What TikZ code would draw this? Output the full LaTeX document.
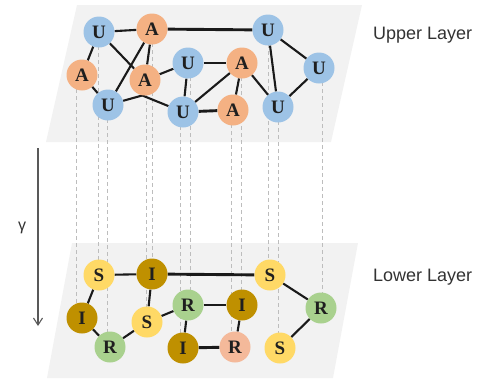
\documentclass[tikz,border=0pt]{standalone}
\usepackage{fontspec}
\setmainfont{Liberation Serif}
\newfontfamily\labelfont{Liberation Sans}
\usetikzlibrary{arrows.meta}

\definecolor{ublue}{HTML}{9DC3E6}
\definecolor{aorange}{HTML}{F4B183}
\definecolor{syellow}{HTML}{FFD966}
\definecolor{igold}{HTML}{BF9000}
\definecolor{rgreen}{HTML}{A9D18E}
\definecolor{rpeach}{HTML}{F4B99A}
\definecolor{planegray}{HTML}{F2F2F2}
\definecolor{projgray}{HTML}{BDBDBD}
\definecolor{edgeblack}{HTML}{1A1A1A}

\pgfdeclarelayer{planes}
\pgfdeclarelayer{links}
\pgfsetlayers{planes,links,main}

\begin{document}
\begin{tikzpicture}[x=1pt,y=-1pt,
  vertex/.style={circle, minimum size=31pt, inner sep=0pt,
    font=\fontsize{19}{19}\selectfont\bfseries, text=black!88},
  U/.style={vertex, fill=ublue},
  A/.style={vertex, fill=aorange},
  S/.style={vertex, fill=syellow},
  I/.style={vertex, fill=igold},
  R/.style={vertex, fill=rgreen},
  Rp/.style={vertex, fill=rpeach},
  edge/.style={draw=edgeblack, line width=2.1pt},
  heavy/.style={draw=edgeblack, line width=2.9pt},
  proj/.style={draw=projgray, line width=0.7pt, dash pattern=on 4pt off 3pt},
  layerlabel/.style={anchor=west, inner sep=0pt, text=black!80,
    font=\labelfont\fontsize{18}{18}\selectfont},
]
\useasboundingbox (0,0) rectangle (484,378);

% the two layer planes
\begin{pgfonlayer}{planes}
  \fill[planegray] (77,5) -- (362,5) -- (331,142) -- (46,142) -- cycle;
  \fill[planegray] (72,243) -- (358,243) -- (333,378) -- (47,378) -- cycle;
\end{pgfonlayer}

% upper layer vertices
\node[U] (U1) at (99,32)  {U};
\node[A] (A1) at (152,29) {A};
\node[U] (U2) at (268,30) {U};
\node[A] (A2) at (82,75)  {A};
\node[A] (A3) at (145,80) {A};
\node[U] (U3) at (188,63) {U};
\node[A] (A4) at (242,63) {A};
\node[U] (U4) at (319,68) {U};
\node[U] (U5) at (108,105) {U};
\node[U] (U6) at (183,112) {U};
\node[A] (A5) at (233,110) {A};
\node[U] (U7) at (278,107) {U};

% lower layer vertices
\node[S] (S1) at (99,275)  {S};
\node[I] (I1) at (152,274) {I};
\node[S] (S2) at (270,275) {S};
\node[I] (I2) at (82,318)  {I};
\node[S] (S3) at (147,322) {S};
\node[R] (R1) at (188,305) {R};
\node[I] (I3) at (242,305) {I};
\node[R] (R2) at (321,308) {R};
\node[R] (R3) at (110,347) {R};
\node[I] (I4) at (183,348) {I};
\node[Rp] (R4) at (235,347) {R};
\node[S] (S4) at (280,348) {S};

\begin{pgfonlayer}{links}
  % vertical projections between the layers
  \foreach \up/\lo/\dx in {A2/I2/-6, U1/S1/-1, U5/R3/-1, A3/S3/1, A1/I1/0,
      U6/I4/-3, U3/R1/2, A5/R4/-2, A4/I3/-1, U2/S2/0, U7/S4/0, U4/R2/3}
    \draw[proj] ([xshift=\dx]\up.center) -- ([xshift=\dx]\up.center |- \lo.center);

  % upper layer edges
  \draw[edge] (U1) -- (A1);
  \draw[heavy] (A1) -- (U2);
  \draw[edge] (U1) -- (A2);
  \draw[edge] (U1) -- (A3);
  \draw[edge] (A1) -- (U5);
  \draw[edge] (A1) -- (A3);
  \draw[edge] (A2) -- (U5);
  \draw[edge] (U5) -- (A3.-100) -- (U6);
  \draw[edge] (A3) -- (U3);
  \draw[edge] (U3) -- (A4);
  \draw[edge] (U3) -- (U6);
  \draw[edge] (U6) -- (A4);
  \draw[heavy] (U6) -- (A5);
  \draw[edge] (A5) -- (A4);
  \draw[edge] (A4) -- (U7);
  \draw[edge] (U2) -- (U4);
  \draw[edge] (U2) -- (U7);
  \draw[edge] (U7) -- (U4);

  % lower layer edges
  \draw[edge] (S1) -- (I1);
  \draw[heavy] (I1) -- (S2);
  \draw[edge] (S1) -- (I2);
  \draw[edge] (I1) -- (S3);
  \draw[edge] (I2) -- (R3);
  \draw[edge] (R3) -- (S3);
  \draw[edge] (S3) -- (R1);
  \draw[edge] (R1) -- (I3);
  \draw[edge] (R1) -- (I4);
  \draw[heavy] (I4) -- (R4);
  \draw[edge] (R4) -- (I3);
  \draw[edge] (S2) -- (R2);
  \draw[edge] (R2) -- (S4);
\end{pgfonlayer}

% direction of the mapping between layers
\coordinate (gtop) at (38,148);
\coordinate (gbot) at (38,326);
\draw[draw=black!65, line width=1.1pt, -{Straight Barb[length=7pt,width=9pt]}] (gtop) -- (gbot);
\node[inner sep=0pt, text=black!80, font=\labelfont\fontsize{16}{16}\selectfont] (gamma) at (22,228) {γ};

% layer names
\node[layerlabel] (upper) at (373,35) {Upper Layer};
\node[layerlabel] (lower) at (373,277) {Lower Layer};
\end{tikzpicture}
\end{document}
